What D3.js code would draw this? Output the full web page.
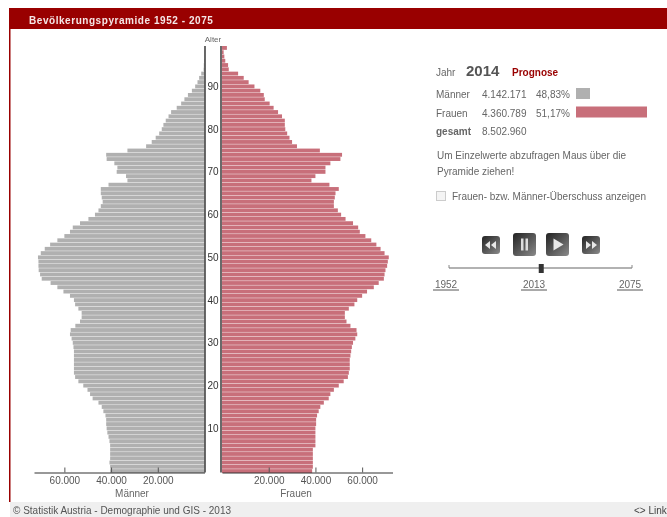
<!DOCTYPE html>
<html>
<head>
<meta charset="utf-8">
<script src="https://cdn.jsdelivr.net/npm/d3@7"></script>
<style>
  html, body { margin: 0; padding: 0; background: #fff; overflow: hidden; }
  svg { display: block; font-family: "Liberation Sans", Arial, sans-serif; filter: blur(0.55px); }
  .axis path { stroke: #333; stroke-width: 1.2; }
  .axis line { stroke: #555; }
  .axis text { font-size: 10px; fill: #555; font-family: "Liberation Sans", Arial, sans-serif; }
</style>
</head>
<body>
<div id="chart"></div>
<script>
// population by age in thousands, index = age 0..99
const maenner = [40.4,40.4,40.7,40.4,40.4,40.4,40.4,40.7,41.1,41.6,
  41.9,42.1,42.1,42.4,43.3,44,45.4,47.9,49,50.1,
  51.9,54,55.4,55.9,55.9,55.9,55.9,55.9,55.9,56.1,
  56.4,56.9,57.6,57.3,55.3,53.3,52.6,52.6,54,55.4,
  55.9,57.6,60.4,63,65.9,69.7,70.4,71,71.1,71.1,
  71.3,70.1,68.4,66.1,63,60,57.6,56.4,53.3,49.7,
  46.9,45.4,44.4,43.6,44,44.4,44.4,41.1,33,33.6,
  37.6,37.3,38.6,41.9,42.1,33,25,22.6,20.9,19.4,
  18.3,17.6,16.6,15.4,14.3,11.9,10,8.6,7.1,5.4,
  4,3,2.3,1.4,0.4,0.3,0.2,0.1,0.1,0];
const frauen = [38.6,38.9,38.9,38.9,38.9,38.9,40,40,40,40,
  40,40.3,40.3,40.7,41.4,42.1,43.6,45.7,46.4,47.9,
  50,52.1,53.9,54.3,54.7,54.7,54.7,55,55.3,55.6,
  56.1,57.1,57.9,57.6,55,53.3,52.6,52.6,54.3,56.7,
  57.9,60,62.1,65,67.1,69.3,69.6,70,70.7,71,
  71.4,69.6,67.9,66.1,63.9,61.4,59,58.3,56.1,52.9,
  51,49.6,47.9,47.9,48.3,48.6,50,46,38.3,40,
  44.3,44.3,46.4,50.7,51.4,41.9,32.1,30,28.9,27.9,
  27.1,26.9,26.9,25.7,24,22.1,20.4,18.3,17.9,16.4,
  13.9,11.4,9.3,6.9,2.9,2.6,1.4,1,0.7,2.1];
const alterTicks = [10,20,30,40,50,60,70,80,90];
const xTicks = [20,40,60];
const jahre = [1952, 2013, 2075];
const jahr = 2014;
const statRows = [
  ['Männer', '4.142.171', '48,83%'],
  ['Frauen', '4.360.789', '51,17%'],
  ['gesamt', '8.502.960', '']
];
const statBars = [14, 71];
const hinweis = ['Um Einzelwerte abzufragen Maus über die', 'Pyramide ziehen!'];

const width = 667, height = 517;
const red = '#990000', grey = '#b0b0b0', pink = '#c86f7a', txt = '#666';
const ages = d3.range(100);

let svg = d3.select('#chart').append('svg')
  .attr('width', width).attr('height', height);

// title bar + frame
svg.append('rect').attr('x', 9).attr('y', 8).attr('width', 658).attr('height', 21).attr('fill', red);
svg.append('rect').attr('x', 9).attr('y', 8).attr('width', 1.5).attr('height', 494).attr('fill', red);
svg.append('text').attr('x', 29).attr('y', 24).attr('fill', '#f5e6e6')
  .attr('font-size', 10).attr('font-weight', 'bold').attr('letter-spacing', 0.55)
  .text('Bevölkerungspyramide 1952 - 2075');

// footer
svg.append('rect').attr('x', 10).attr('y', 502).attr('width', 657).attr('height', 15).attr('fill', '#efefef');
svg.append('text').attr('x', 13).attr('y', 514).attr('font-size', 10).attr('fill', '#555')
  .text('© Statistik Austria - Demographie und GIS - 2013');
svg.append('text').attr('x', 634).attr('y', 514).attr('font-size', 10).attr('fill', '#444').text('<> Link');

// pyramid scales
const y = d3.scaleBand().domain(ages).range([473, 46]).paddingInner(0.1);
const xL = d3.scaleLinear().domain([0, 73]).range([204.5, 34]);
const xR = d3.scaleLinear().domain([0, 73]).range([222, 392.5]);

svg.append('g').selectAll('rect').data(ages).join('rect')
  .attr('x', a => xL(maenner[a])).attr('y', a => y(a))
  .attr('width', a => xL(0) - xL(maenner[a])).attr('height', y.bandwidth())
  .attr('fill', grey);
svg.append('g').selectAll('rect').data(ages).join('rect')
  .attr('x', xR(0)).attr('y', a => y(a))
  .attr('width', a => xR(frauen[a]) - xR(0)).attr('height', y.bandwidth())
  .attr('fill', pink);

// x axes, ticks pointing up
const fmt = d => d3.format(',')(d * 1000).replace(',', '.');
const axL = svg.append('g').attr('class', 'axis').attr('transform', 'translate(0,472.5)')
  .call(d3.axisBottom(xL).tickValues(xTicks).tickFormat(fmt).tickSizeOuter(0));
const axR = svg.append('g').attr('class', 'axis').attr('transform', 'translate(0,472.5)')
  .call(d3.axisBottom(xR).tickValues(xTicks).tickFormat(fmt).tickSizeOuter(0));
[axL, axR].forEach(ax => {
  ax.selectAll('.tick line').attr('y2', -5);
  ax.selectAll('.tick text').attr('y', 4);
});
svg.append('text').attr('x', 132).attr('y', 497).attr('text-anchor', 'middle')
  .attr('font-size', 10).attr('fill', txt).text('Männer');
svg.append('text').attr('x', 296).attr('y', 497).attr('text-anchor', 'middle')
  .attr('font-size', 10).attr('fill', txt).text('Frauen');

// centre column
[205, 221].forEach(x => {
  svg.append('line').attr('x1', x).attr('x2', x).attr('y1', 46).attr('y2', 472.5)
    .attr('stroke', '#444').attr('stroke-width', 1.6);
});
svg.append('text').attr('x', 213).attr('y', 42).attr('text-anchor', 'middle')
  .attr('font-size', 8).attr('fill', txt).text('Alter');
svg.append('g').selectAll('text').data(alterTicks).join('text')
  .attr('x', 213).attr('y', a => y(a) + y.bandwidth() / 2 + 3.5)
  .attr('text-anchor', 'middle').attr('font-size', 10).attr('fill', '#333').text(a => a);

// info panel
let info = svg.append('g').attr('fill', txt).attr('font-size', 10);
info.append('text').attr('x', 436).attr('y', 76).text('Jahr');
info.append('text').attr('x', 466).attr('y', 76).attr('font-size', 15).attr('font-weight', 'bold')
  .attr('fill', '#555').text(jahr);
info.append('text').attr('x', 512).attr('y', 76).attr('font-weight', 'bold').attr('fill', red).text('Prognose');

statRows.forEach((r, i) => {
  const ry = 98 + i * 18.5;
  info.append('text').attr('x', 436).attr('y', ry).attr('font-weight', i == 2 ? 'bold' : 'normal').text(r[0]);
  info.append('text').attr('x', 482).attr('y', ry).text(r[1]);
  info.append('text').attr('x', 536).attr('y', ry).text(r[2]);
});
statBars.forEach((w, i) => {
  svg.append('rect').attr('x', 576).attr('y', 88 + i * 18.5).attr('width', w).attr('height', 11)
    .attr('fill', i == 0 ? grey : pink);
});
hinweis.forEach((t, i) => {
  info.append('text').attr('x', 437).attr('y', 159 + i * 15.5).text(t);
});
svg.append('rect').attr('x', 436.5).attr('y', 191.5).attr('width', 9).attr('height', 9)
  .attr('fill', '#f4f4f4').attr('stroke', '#ccc');
info.append('text').attr('x', 452).attr('y', 200).text('Frauen- bzw. Männer-Überschuss anzeigen');

// player buttons
const buttons = [
  {x: 482, y: 236, s: 18, icon: 'back'},
  {x: 513, y: 233, s: 23, icon: 'pause'},
  {x: 546, y: 233, s: 23, icon: 'play'},
  {x: 582, y: 236, s: 18, icon: 'fwd'}
];
let grad = svg.append('defs').append('linearGradient').attr('id', 'btn')
  .attr('x1', 0).attr('x2', 1).attr('y1', 0).attr('y2', 1);
grad.append('stop').attr('offset', '0%').attr('stop-color', '#222');
grad.append('stop').attr('offset', '100%').attr('stop-color', '#8a8a8a');
buttons.forEach(b => {
  let g = svg.append('g').attr('transform', `translate(${b.x},${b.y})`);
  g.append('rect').attr('width', b.s).attr('height', b.s).attr('rx', 3).attr('fill', 'url(#btn)');
  const c = b.s / 2;
  if (b.icon == 'pause') {
    g.append('rect').attr('x', c - 3.5).attr('y', c - 6).attr('width', 2.5).attr('height', 12).attr('fill', '#ddd');
    g.append('rect').attr('x', c + 1).attr('y', c - 6).attr('width', 2.5).attr('height', 12).attr('fill', '#ddd');
  } else if (b.icon == 'play') {
    g.append('path').attr('d', `M${c - 4},${c - 6}L${c + 6},${c}L${c - 4},${c + 6}Z`).attr('fill', '#e8e8e8');
  } else {
    const d = b.icon == 'back' ? -1 : 1;
    [-5, 1].forEach(o => {
      g.append('path').attr('d', `M${c + d * o},${c - 4}L${c + d * (o + 5)},${c}L${c + d * o},${c + 4}Z`).attr('fill', '#e8e8e8');
    });
  }
});

// year slider
const sx = d3.scaleLinear().domain([jahre[0], jahre[2]]).range([449, 632]);
svg.append('line').attr('x1', sx(jahre[0])).attr('x2', sx(jahre[2])).attr('y1', 268).attr('y2', 268)
  .attr('stroke', '#666').attr('stroke-width', 1.2);
[jahre[0], jahre[2]].forEach(j => {
  svg.append('line').attr('x1', sx(j)).attr('x2', sx(j)).attr('y1', 265).attr('y2', 268).attr('stroke', '#888');
});
svg.append('rect').attr('x', sx(jahr) - 2.5).attr('y', 264).attr('width', 5).attr('height', 9).attr('fill', '#333');
const labelX = [446, 534, 630];
jahre.forEach((j, i) => {
  svg.append('text').attr('x', labelX[i]).attr('y', 288).attr('text-anchor', 'middle')
    .attr('font-size', 10).attr('fill', txt).text(j);
  svg.append('line').attr('x1', labelX[i] - 13).attr('x2', labelX[i] + 13).attr('y1', 290).attr('y2', 290)
    .attr('stroke', '#555');
});
</script>
</body>
</html>
